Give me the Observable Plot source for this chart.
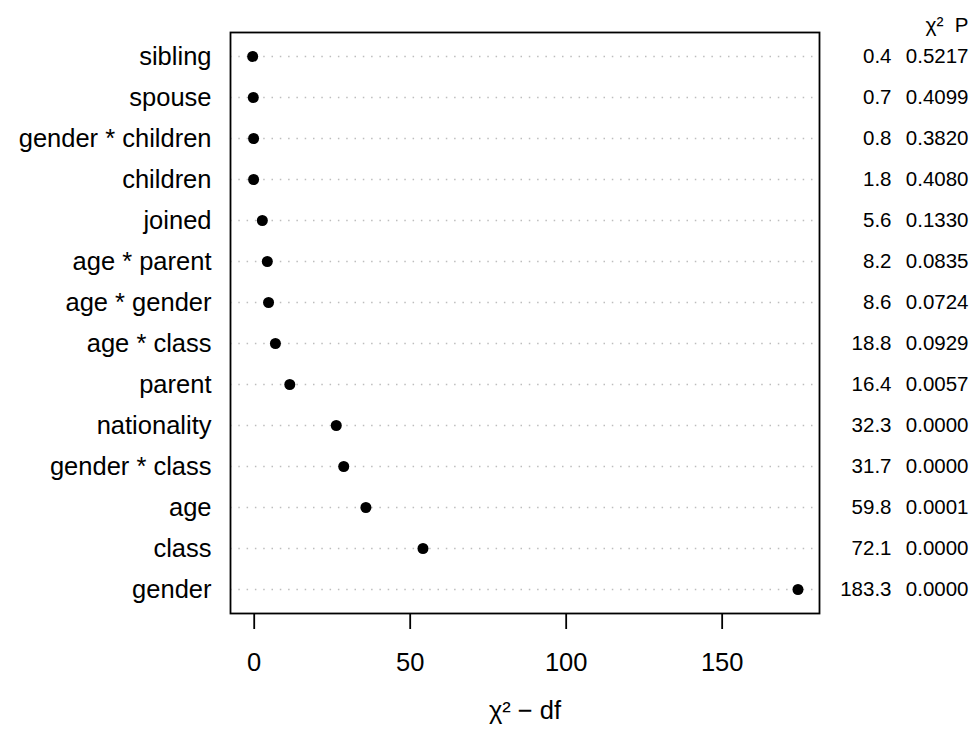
<!DOCTYPE html>
<html>
<head>
<meta charset="utf-8">
<script src="https://cdn.jsdelivr.net/npm/d3@7"></script>
<script src="https://cdn.jsdelivr.net/npm/@observablehq/plot@0.6"></script>
<style>
  html, body { margin: 0; padding: 0; background: white; }
</style>
</head>
<body>
<div id="chart"></div>
<script>
const terms = ["sibling", "spouse", "gender * children", "children", "joined", "age * parent", "age * gender", "age * class", "parent", "nationality", "gender * class", "age", "class", "gender"];
const chiMinusDf = [-0.5, -0.3, -0.2, -0.2, 2.6, 4.2, 4.6, 6.8, 11.4, 26.3, 28.7, 35.8, 54.1, 174.3];
const chiSquare = ["0.4", "0.7", "0.8", "1.8", "5.6", "8.2", "8.6", "18.8", "16.4", "32.3", "31.7", "59.8", "72.1", "183.3"];
const pValues = ["0.5217", "0.4099", "0.3820", "0.4080", "0.1330", "0.0835", "0.0724", "0.0929", "0.0057", "0.0000", "0.0000", "0.0001", "0.0000", "0.0000"];
const xTicks = [0, 50, 100, 150];
const headers = ["χ²", "P"];
const xLabel = "χ² − df";

const rows = terms.map((t, i) => ({term: t, value: chiMinusDf[i], chi: chiSquare[i], p: pValues[i]}));

const font = "'Liberation Sans', Arial, Helvetica, sans-serif";

const chart = Plot.plot({
  width: 972,
  height: 732,
  marginLeft: 230,
  marginRight: 153,
  marginTop: 32,
  marginBottom: 119,
  style: {fontFamily: font, background: "white", color: "black"},
  x: {domain: [-7.6, 181.2]},
  y: {domain: terms, type: "point", padding: 0.5},
  marks: [
    Plot.ruleY(rows, {y: "term", stroke: "#bdbdbd", strokeWidth: 1.5, strokeDasharray: "1.5 6.8"}),
    Plot.frame({stroke: "black", strokeWidth: 1.8}),
    Plot.dot(rows, {x: "value", y: "term", r: 5.5, fill: "black"}),
    Plot.axisY({tickSize: 0, tickPadding: 19, fontSize: 25.5, label: null}),
    Plot.axisX({ticks: xTicks, tickSize: 16, tickPadding: 23, fontSize: 25.5, label: null, strokeWidth: 1.8, tickFormat: d => String(d)}),
    Plot.text(rows, {y: "term", text: "chi", frameAnchor: "right", textAnchor: "end", dx: 72, fontSize: 20.5}),
    Plot.text(rows, {y: "term", text: "p", frameAnchor: "right", textAnchor: "end", dx: 149, fontSize: 20.5}),
    Plot.text([headers[0]], {text: d => d, frameAnchor: "top-right", textAnchor: "end", dx: 124, dy: -15, fontSize: 21}),
    Plot.text([headers[1]], {text: d => d, frameAnchor: "top-right", textAnchor: "end", dx: 149, dy: -15, fontSize: 20.5}),
    Plot.text([xLabel], {text: d => d, frameAnchor: "bottom", dy: 105, fontSize: 25.5})
  ]
});

document.getElementById("chart").appendChild(chart);
</script>
</body>
</html>
